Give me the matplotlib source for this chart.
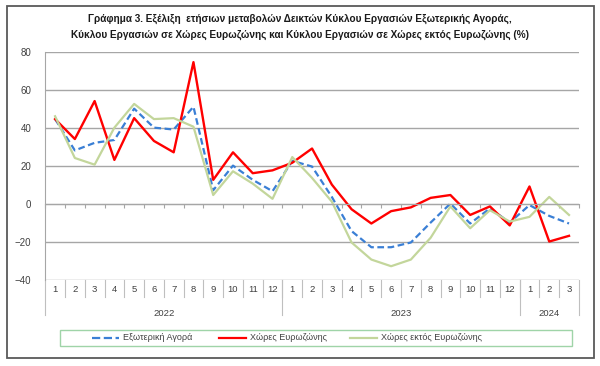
import numpy as np
import matplotlib.pyplot as plt
from matplotlib.lines import Line2D
from matplotlib.patches import Rectangle
import matplotlib.transforms as mtransforms

plt.rcParams['font.family'] = ['Liberation Sans', 'DejaVu Sans']

# Monthly annual changes (%)
months = ['1', '2', '3', '4', '5', '6', '7', '8', '9', '10', '11', '12',
          '1', '2', '3', '4', '5', '6', '7', '8', '9', '10', '11', '12',
          '1', '2', '3']
years = ['2022', '2023', '2024']
year_len = [12, 12, 3]

ext_market = [44.5, 28, 32, 33.5, 50, 40, 39, 51, 7, 20, 12.5, 6.5,
              22.5, 19.5, 3.5, -14.5, -23, -23, -20.5, -10, 0, -10.5, -2.5, -10,
              -0.8, -6.5, -10.5]
eurozone = [44.5, 34, 54, 23, 45, 33, 27, 74.5, 12.5, 27, 16, 17.5,
            21.5, 29, 10, -3, -10.5, -4, -2, 3, 4.5, -6, -1.5, -11.5,
            9, -20, -17]
non_eurozone = [46, 24, 20.5, 40, 52.5, 44.5, 45, 40.5, 4.5, 17, 10.5, 2.5,
                24.5, 13.5, 1, -20.5, -29.5, -33, -29.5, -18, -1.5, -13, -3.5, -9.5,
                -7, 3.5, -6]

labels = ['Εξωτερική Αγορά', 'Χώρες Ευρωζώνης', 'Χώρες εκτός Ευρωζώνης']
title = ('Γράφημα 3. Εξέλιξη  ετήσιων μεταβολών Δεικτών Κύκλου Εργασιών Εξωτερικής Αγοράς,\n'
         'Κύκλου Εργασιών σε Χώρες Ευρωζώνης και Κύκλου Εργασιών σε Χώρες εκτός Ευρωζώνης (%)')

W, H = 600, 366
fig = plt.figure(figsize=(6, 3.66), dpi=100)

# outer chart frame
fig.patches.append(Rectangle((7 / W, 1 - 358 / H), 587 / W, 352 / H, transform=fig.transFigure,
                             fill=False, edgecolor='#595959', lw=1.3))

ax = fig.add_axes([45.2 / W, 1 - 279.5 / H, 533.7 / W, 227.8 / H])
x = np.arange(len(months))

ax.set_xlim(-0.5, len(months) - 0.5)
ax.set_ylim(-40, 80)
ax.set_yticks(np.arange(-40, 81, 20))
ax.tick_params(axis='y', length=0, labelsize=7, labelcolor='#404040', pad=10)
ax.grid(axis='y', color='#a6a6a6', lw=1)
ax.set_axisbelow(True)

for s in ['top', 'right']:
    ax.spines[s].set_visible(False)
ax.spines['left'].set_color('#a6a6a6')
ax.spines['bottom'].set_position(('data', 0))
ax.spines['bottom'].set_color('#a6a6a6')
ax.set_xticks(np.arange(-0.5, len(months), 1.0))
ax.set_xticklabels([])
ax.tick_params(axis='x', direction='out', length=3, color='#a6a6a6')

l1, = ax.plot(x, ext_market, color='#3a7fd5', lw=1.6, ls=(0, (3, 1.6)))
l2, = ax.plot(x, eurozone, color='#ff0000', lw=1.7)
l3, = ax.plot(x, non_eurozone, color='#c3d69b', lw=1.6)

# multi-level category labels
trans = mtransforms.blended_transform_factory(ax.transData, ax.transAxes)
for i, m in enumerate(months):
    ax.text(i, -0.042, m, transform=trans, ha='center', va='center', fontsize=6.8, color='#404040')
for b in np.arange(0.5, len(months) - 1, 1.0):
    ax.plot([b, b], [0, -0.077], transform=trans, color='#bfbfbf', lw=0.8, clip_on=False)
start = 0
bounds = [-0.5]
for yr, n in zip(years, year_len):
    ax.text(start + (n - 1) / 2, -0.148, yr, transform=trans, ha='center', va='center',
            fontsize=6.8, color='#404040')
    start += n
    bounds.append(start - 0.5)
for b in bounds:
    ax.plot([b, b], [0, -0.156], transform=trans, color='#bfbfbf', lw=0.8, clip_on=False)

fig.text(0.5, 1 - 27 / H, title, ha='center', va='center', fontsize=7.2, fontweight='bold',
         linespacing=1.75, color='#1a1a1a')

# legend
fig.patches.append(Rectangle((60 / W, 1 - 346 / H), 512 / W, 16 / H, transform=fig.transFigure,
                             fill=False, edgecolor='#9fd4a8', lw=1))
ly = 1 - 338 / H
for line, lab, x0 in zip([l1, l2, l3], labels, [92, 219, 350]):
    fig.lines.append(Line2D([x0 / W, (x0 + 27) / W], [ly, ly], transform=fig.transFigure,
                            color=line.get_color(), lw=1.6, ls=line.get_linestyle()))
    fig.text((x0 + 31) / W, ly, lab, ha='left', va='center', fontsize=6.5, color='#404040')

fig.savefig('out.png', dpi=100, facecolor='white')
